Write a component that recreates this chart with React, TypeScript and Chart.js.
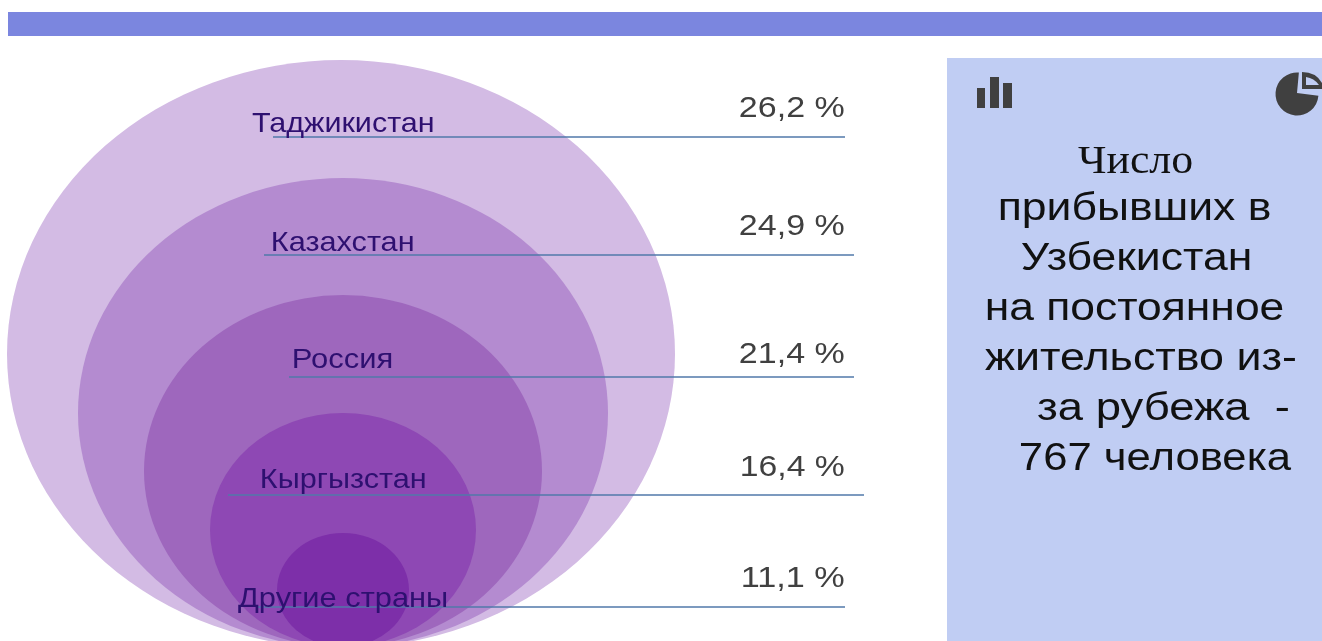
import React, { useEffect, useRef } from "react";
import { Chart, registerables } from "chart.js";

Chart.register(...registerables);

const countries = ["Таджикистан", "Казахстан", "Россия", "Кыргызстан", "Другие страны"];
const shares = [26.2, 24.9, 21.4, 16.4, 11.1];
const panelLines = ["Число", "прибывших в", "Узбекистан", "на постоянное", "жительство из-", "за рубежа  -", "767 человека"];

// layout, in canvas pixels (scales run 1:1 with the page)
const ringCx = [341, 343, 343, 343, 343];
const ringTop = [60, 178, 295, 413, 533];
const ringRx = [334, 265, 199, 133, 66];
const ringRy = [294, 235, 176, 117, 57];
const ringFill = ["#d3bbe4", "#b48bd0", "#9e67bd", "#8e48b4", "#7d2fa9"];
const labelLeft = [252, 273, 294, 262, 238];
const labelRight = [433, 413, 392, 425, 447];
const labelBase = [132, 251, 368, 488, 607];
const ruleY = [137, 255, 377, 495, 607];
const ruleStart = [273, 264, 289, 228, 258];
const ruleEnd = [845, 854, 854, 864, 845];
const pctLeft = [740, 740, 740, 742, 743];
const pctBase = [117, 235, 363, 476, 587];
const panelLeft = [1078, 1000, 1022, 987, 985, 1037, 1020];
const panelRight = [1192, 1270, 1250, 1283, 1295, 1288, 1292];
const panelBase = [173, 220, 270, 320, 370, 420, 470];

const fmt = (v: number) => v.toFixed(1).replace(".", ",") + " %";

// draw text on an alphabetic baseline, stretched to span left..right
function fitted(ctx: CanvasRenderingContext2D, text: string, left: number, right: number, base: number) {
  const m = ctx.measureText(text);
  const inkW = m.actualBoundingBoxRight + m.actualBoundingBoxLeft;
  const sx = (right - left) / inkW;
  ctx.save();
  ctx.translate(left + m.actualBoundingBoxLeft * sx, base);
  ctx.scale(sx, 1);
  ctx.fillText(text, 0, 0);
  ctx.restore();
}

const page = {
  id: "page",
  beforeDatasetsDraw(chart: any) {
    const { ctx, scales } = chart;
    const x = scales.x, y = scales.y;
    ctx.save();
    ctx.fillStyle = "#7b86df";
    ctx.fillRect(x.getPixelForValue(8), y.getPixelForValue(12), x.getPixelForValue(1322) - x.getPixelForValue(8), 24);
    ctx.fillStyle = "#c0cdf3";
    ctx.fillRect(x.getPixelForValue(947), y.getPixelForValue(58), 375, 583);

    // nested ellipses, from the hidden scatter points
    const meta = chart.getDatasetMeta(0);
    meta.data.forEach((pt: any, i: number) => {
      ctx.beginPath();
      ctx.ellipse(pt.x, pt.y, ringRx[i], ringRy[i], 0, 0, Math.PI * 2);
      ctx.fillStyle = ringFill[i];
      ctx.fill();
    });

    // bar icon
    ctx.fillStyle = "#404040";
    ctx.fillRect(977, 88, 8, 20);
    ctx.fillRect(990, 77, 9, 31);
    ctx.fillRect(1003, 83, 9, 25);

    // pie icon
    const deg = Math.PI / 180;
    ctx.beginPath();
    ctx.moveTo(1297, 93);
    ctx.arc(1297, 94, 21.5, 5 * deg, 275 * deg);
    ctx.closePath();
    ctx.fill();
    ctx.beginPath();
    ctx.moveTo(1302, 89);
    ctx.lineTo(1302, 72);
    ctx.quadraticCurveTo(1316, 72, 1322, 83);
    ctx.lineTo(1322, 89);
    ctx.closePath();
    ctx.fill();
    ctx.beginPath();
    ctx.moveTo(1306, 85);
    ctx.lineTo(1306, 77);
    ctx.quadraticCurveTo(1314, 78, 1319, 85);
    ctx.closePath();
    ctx.fillStyle = "#c0cdf3";
    ctx.fill();
    ctx.restore();
  },
  afterDatasetsDraw(chart: any) {
    const { ctx, scales } = chart;
    const x = scales.x, y = scales.y;
    const px = (v: number) => x.getPixelForValue(v);
    const py = (v: number) => y.getPixelForValue(v);
    ctx.save();
    ctx.textBaseline = "alphabetic";
    ctx.textAlign = "left";
    ctx.font = '28px "Liberation Sans"';
    ctx.fillStyle = "#2e1070";
    countries.forEach((c, i) => fitted(ctx, c, px(labelLeft[i]), px(labelRight[i]), py(labelBase[i])));
    ctx.font = '30px "Liberation Sans"';
    ctx.fillStyle = "#404040";
    shares.forEach((s, i) => fitted(ctx, fmt(s), px(pctLeft[i]), px(844), py(pctBase[i])));
    ctx.fillStyle = "#111111";
    panelLines.forEach((t, i) => {
      ctx.font = i === 0 ? '40px "Liberation Serif"' : '38px "Liberation Sans"';
      fitted(ctx, t, px(panelLeft[i]), px(panelRight[i]), py(panelBase[i]));
    });
    ctx.restore();
  },
};

export default function App() {
  const ref = useRef<HTMLCanvasElement | null>(null);
  useEffect(() => {
    document.body.style.margin = "0";
    const rules = countries.map((c, i) => ({
      type: "line" as const,
      label: c,
      data: [
        { x: ruleStart[i], y: ruleY[i] },
        { x: ruleEnd[i], y: ruleY[i] },
      ],
      borderColor: "rgba(80,120,170,0.75)",
      borderWidth: 2,
      pointRadius: 0,
    }));
    const chart = new Chart(ref.current as HTMLCanvasElement, {
      type: "scatter",
      data: {
        datasets: [
          {
            label: "rings",
            data: countries.map((_, i) => ({ x: ringCx[i], y: ringTop[i] + ringRy[i] })),
            pointRadius: 0,
          } as any,
          ...rules,
        ],
      },
      options: {
        animation: false,
        responsive: false,
        layout: { padding: 0 },
        events: [],
        clip: false,
        plugins: { legend: { display: false }, tooltip: { enabled: false } },
        scales: {
          x: { type: "linear", min: 0, max: 1322, display: false },
          y: { type: "linear", min: 0, max: 641, reverse: true, display: false },
        },
      } as any,
      plugins: [page],
    });
    return () => chart.destroy();
  }, []);
  return <canvas ref={ref} width={1322} height={641} style={{ display: "block" }} />;
}
